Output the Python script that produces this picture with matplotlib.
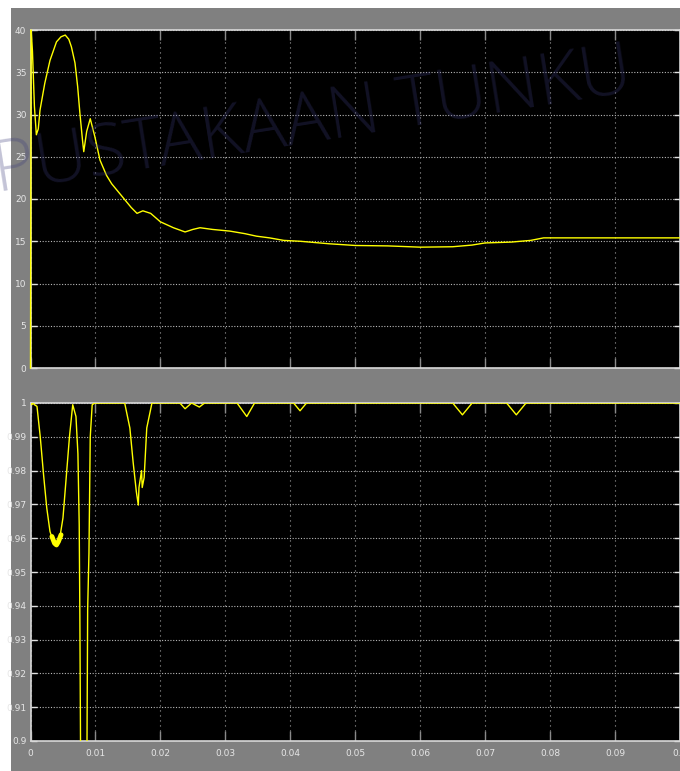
import matplotlib
matplotlib.use('Agg')
import matplotlib.pyplot as plt
from matplotlib.patches import Rectangle

# top scope trace
top_t = [0.0, 0.0001, 0.0003, 0.0006, 0.0009, 0.0012, 0.00146, 0.0022, 0.0030, 0.0040,
         0.0047, 0.00535, 0.0059, 0.0063, 0.00685, 0.00726, 0.0076, 0.0080, 0.0082, 0.00865,
         0.0092, 0.0099, 0.0107, 0.0117, 0.0125, 0.0140, 0.0155, 0.0164, 0.0173, 0.0185,
         0.0200, 0.0220, 0.0238, 0.0250, 0.0261, 0.0280, 0.0307, 0.0330, 0.0348, 0.0368,
         0.0390, 0.0415, 0.0460, 0.0500, 0.0550, 0.0600, 0.0650, 0.0680, 0.0700, 0.0740,
         0.0770, 0.0780, 0.0790, 0.1000]
top_v = [0.0, 40.0, 37.5, 31.0, 27.6, 28.3, 30.5, 33.7, 36.4, 38.6,
         39.2, 39.4, 38.9, 38.0, 36.1, 33.3, 30.2, 27.0, 25.6, 28.0,
         29.5, 27.4, 24.6, 22.8, 21.8, 20.4, 19.0, 18.3, 18.6, 18.3,
         17.3, 16.6, 16.1, 16.4, 16.6, 16.4, 16.2, 15.9, 15.6, 15.4,
         15.1, 15.0, 14.7, 14.5, 14.45, 14.3, 14.35, 14.55, 14.8, 14.9,
         15.1, 15.25, 15.4, 15.4]

# bottom scope trace
bot_t = [0.0, 0.0002, 0.0004, 0.0006, 0.0010, 0.0015, 0.0020, 0.0025, 0.0030, 0.0035,
         0.0040, 0.0045, 0.0050, 0.0055, 0.0060, 0.0065, 0.0070, 0.0073, 0.0075, 0.0076,
         0.0077, 0.0082, 0.0087, 0.0088, 0.0090, 0.0092, 0.0095, 0.0099, 0.0145, 0.0153,
         0.0158, 0.0163, 0.0166, 0.0167, 0.0171, 0.0172, 0.0175, 0.0179, 0.0187, 0.0230,
         0.0238, 0.0248, 0.0260, 0.0268, 0.0318, 0.0333, 0.0345, 0.0405, 0.0415, 0.0425,
         0.0650, 0.0665, 0.0680, 0.0733, 0.0748, 0.0763, 0.1000]
bot_v = [1.0, 0.9995, 1.0, 0.9995, 0.999, 0.990, 0.979, 0.969, 0.962, 0.959,
         0.958, 0.960, 0.966, 0.978, 0.990, 0.9995, 0.996, 0.985, 0.964, 0.937,
         0.900, 0.850, 0.900, 0.939, 0.9556, 0.990, 0.9995, 1.0, 1.0, 0.9926,
         0.9825, 0.9737, 0.9698, 0.975, 0.980, 0.975, 0.978, 0.9926, 1.0, 1.0,
         0.9983, 1.0, 0.9988, 1.0, 1.0, 0.996, 1.0, 1.0, 0.9977, 1.0,
         1.0, 0.9965, 1.0, 1.0, 0.9965, 1.0, 1.0]

# ripple band at the bottom of the first dip
ripple_t = [0.0033, 0.0037, 0.0040, 0.0043, 0.0047]
ripple_v = [0.9605, 0.9585, 0.9580, 0.9590, 0.9610]

x_ticks = [0, 0.01, 0.02, 0.03, 0.04, 0.05, 0.06, 0.07, 0.08, 0.09, 0.1]
x_labels = ['0', '0.01', '0.02', '0.03', '0.04', '0.05', '0.06', '0.07', '0.08', '0.09', '0.1']
top_yticks = [0, 5, 10, 15, 20, 25, 30, 35, 40]
bot_yticks = [0.9, 0.91, 0.92, 0.93, 0.94, 0.95, 0.96, 0.97, 0.98, 0.99, 1.0]
bot_ylabels = ['0.9', '0.91', '0.92', '0.93', '0.94', '0.95', '0.96', '0.97', '0.98', '0.99', '1']

W, H = 680, 771
font = ['Liberation Sans Narrow', 'DejaVu Sans']
label_color = '#e6e6e6'

fig = plt.figure(figsize=(W / 100, H / 100), dpi=100, facecolor='white')
fig.patches.append(Rectangle((11 / W, 0), 1, 1 - 8 / H, transform=fig.transFigure,
                             facecolor='#808080', edgecolor='none', zorder=-5))


def style_scope(ax, yticks, ylabels, ylim, show_x):
    ax.set_facecolor('black')
    ax.set_xlim(0, 0.1)
    ax.set_ylim(*ylim)
    ax.set_xticks(x_ticks)
    ax.set_yticks(yticks)
    ax.set_yticklabels(ylabels, family=font, fontsize=6.5, color=label_color)
    if show_x:
        ax.set_xticklabels(x_labels, family=font, fontsize=6.5, color=label_color)
    else:
        ax.set_xticklabels([])
    ax.tick_params(axis='x', direction='in', length=7, width=1, color='#8a8a8a',
                   top=True, bottom=True, pad=6)
    ax.tick_params(axis='y', direction='in', length=4, width=1, color='#e0e0e0',
                   left=True, right=True, pad=3)
    ax.xaxis.grid(True, color='#a0a0a0', linestyle=(0, (1, 3.5)), linewidth=0.8)
    ax.yaxis.grid(True, color='#b8b8b8', linestyle=(0, (1, 1.5)), linewidth=0.8)
    for side in ['top', 'bottom', 'left', 'right']:
        ax.spines[side].set_color('#d8d8d8')
        ax.spines[side].set_linewidth(1.2)


ax1 = fig.add_axes([30.5 / W, 1 - 368 / H, 1 - 30.5 / W, 338 / H])
style_scope(ax1, top_yticks, [str(v) for v in top_yticks], (0, 40), False)
ax1.plot(top_t, top_v, color='#ffff00', linewidth=1.0, clip_on=False, zorder=3)

ax2 = fig.add_axes([30.5 / W, 1 - 741 / H, 1 - 30.5 / W, 338 / H])
style_scope(ax2, bot_yticks, bot_ylabels, (0.9, 1.0), True)
ax2.plot(bot_t, bot_v, color='#ffff00', linewidth=1.0, zorder=3)
ax2.plot(ripple_t, ripple_v, color='#ffff00', linewidth=3.5, solid_capstyle='round', zorder=3)

# faint library watermark
fig.text(-0.005, 1 - 192 / H, 'PUSTAKAAN TUNKU', family=['Open Sans', 'DejaVu Sans'],
         fontweight='light', fontsize=52, color='#3c3c7a', alpha=0.3, rotation=9,
         rotation_mode='anchor', ha='left', va='baseline', zorder=10)

fig.savefig('out.png', dpi=100, facecolor=fig.get_facecolor())
